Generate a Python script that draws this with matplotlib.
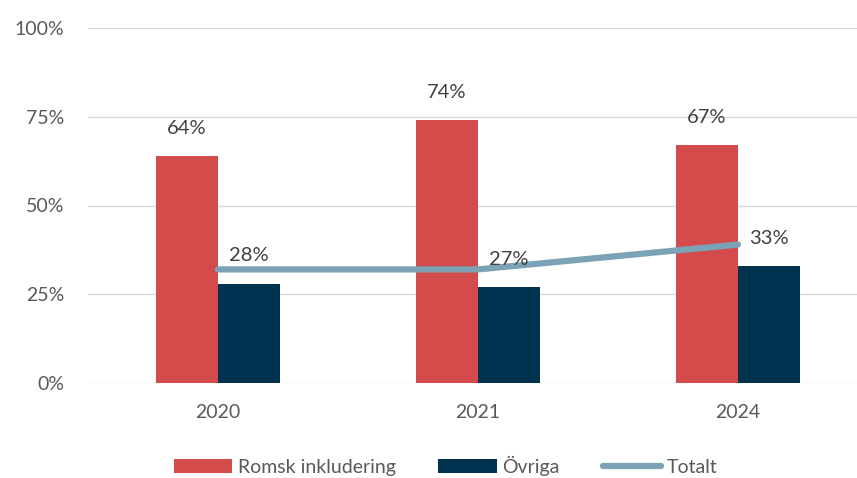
import matplotlib
matplotlib.use("Agg")
import matplotlib.pyplot as plt
import numpy as np

years = ["2020", "2021", "2024"]
romsk = [64, 74, 67]
ovriga = [28, 27, 33]
totalt = [32, 32, 39]

plt.rcParams['font.family'] = ['Lato', 'DejaVu Sans']

fig = plt.figure(figsize=(8.57, 4.78), dpi=100)
ax = fig.add_axes([88/857, 95/478, 780/857, 355/478])

x = np.arange(len(years))
w = 0.238
red = "#D34B4B"
navy = "#003350"
lc = "#7BA3B5"
b1 = ax.bar(x - w/2, romsk, w, color=red, label="Romsk inkludering", zorder=2)
b2 = ax.bar(x + w/2, ovriga, w, color=navy, label="Övriga", zorder=2)
ax.plot(x, totalt, color=lc, lw=4.5, solid_capstyle='round', label="Totalt", zorder=3)

for bars, vals in ((b1, romsk), (b2, ovriga)):
    for r, v in zip(bars, vals):
        ax.annotate(f"{v}%", (r.get_x() + r.get_width()/2, v), xytext=(0, 20),
                    textcoords="offset points", ha="center", va="center",
                    fontsize=14.5, color="#404040", zorder=4)

ax.set_xlim(-0.5, 2.5)
ax.set_ylim(0, 100)
ax.set_yticks([0, 25, 50, 75, 100])
ax.set_yticklabels([f"{t}%" for t in [0, 25, 50, 75, 100]])
ax.set_xticks(x)
ax.set_xticklabels(years)
ax.grid(axis='y', color="#D9D9D9", lw=1, zorder=0)
for s in ax.spines.values():
    s.set_visible(False)
ax.tick_params(axis='both', length=0, labelsize=14, colors="#595959")
ax.tick_params(axis='y', pad=17)
ax.tick_params(axis='x', pad=15)

leg = fig.legend(handles=[b1, b2, ax.get_lines()[0]], loc="center", bbox_to_anchor=(0.52, 12/478),
                 ncol=3, frameon=False, fontsize=14, handlelength=3.0, columnspacing=2.2,
                 handletextpad=0.3)
for t in leg.get_texts():
    t.set_color("#595959")

fig.savefig("out.png", dpi=100)
